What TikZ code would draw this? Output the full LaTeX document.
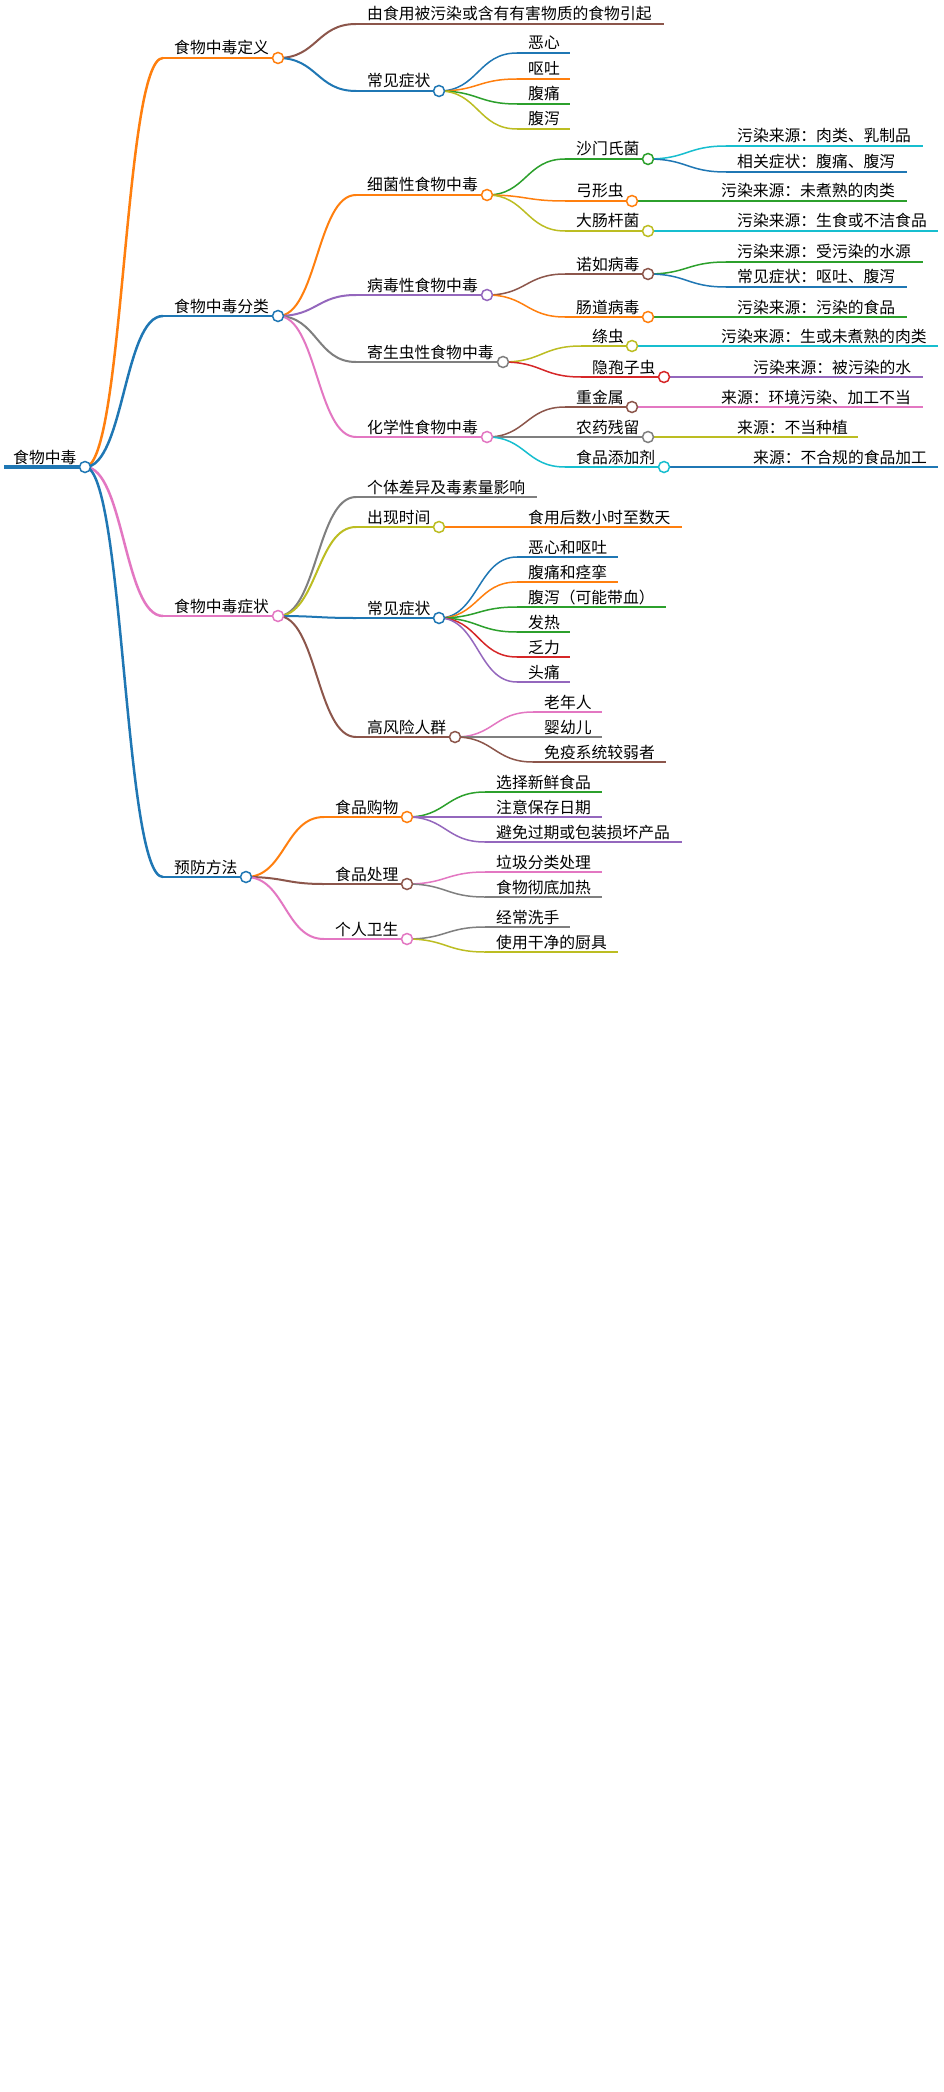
\documentclass[tikz,border=0pt]{standalone}
\usepackage{fontspec}
\setmainfont{Noto Sans CJK SC}
\usetikzlibrary{calc}
\pgfdeclarelayer{bg}
\pgfsetlayers{bg,main}
\definecolor{mblue}{HTML}{1F77B4}
\definecolor{morange}{HTML}{FF7F0E}
\definecolor{mgreen}{HTML}{2CA02C}
\definecolor{mred}{HTML}{D62728}
\definecolor{mpurple}{HTML}{9467BD}
\definecolor{mbrown}{HTML}{8C564B}
\definecolor{mpink}{HTML}{E377C2}
\definecolor{mgray}{HTML}{7F7F7F}
\definecolor{molive}{HTML}{BCBD22}
\definecolor{mcyan}{HTML}{17BECF}
\tikzset{
  lbl/.style={anchor=base west, inner sep=0pt, font=\fontsize{15.8pt}{18pt}\selectfont, text=black},
  dot/.style={circle, fill=white, line width=1.5pt, minimum size=11pt, inner sep=0pt}
}
% #1 name, #2 parent, #3 x start, #4 y, #5 colour, #6 width
\newcommand\mmlink[6]{%
  \coordinate (#1s) at (#3,-#4);
  \coordinate (#1m) at ($(#2.center)!0.5!(#1s)$);
  \begin{pgfonlayer}{bg}
    \draw[line width=#6, draw=#5] (#2.center) .. controls (#1m |- #2.center) and (#1m |- #1s) .. (#1s);
  \end{pgfonlayer}}
% #1 name, #2 parent, #3 x start, #4 y, #5 x end, #6 colour, #7 width, #8 text
\newcommand\mmleaf[8]{%
  \mmlink{#1}{#2}{#3}{#4}{#6}{#7}
  \coordinate (#1e) at (#5,-#4);
  \begin{pgfonlayer}{bg}\draw[line width=#7, draw=#6] (#1s) -- (#1e);\end{pgfonlayer}
  \node[lbl] (#1t) at ($(#1s)+(11,4)$) {#8};}
\newcommand\mmin[8]{%
  \mmlink{#1}{#2}{#3}{#4}{#6}{#7}
  \coordinate (#1e) at (#5,-#4);
  \begin{pgfonlayer}{bg}\draw[line width=#7, draw=#6] (#1s) -- (#1e);\end{pgfonlayer}
  \node[dot, draw=#6] (#1) at (#1e) {};
  \node[lbl] (#1t) at ($(#1s)+(11,4)$) {#8};}
\begin{document}
\begin{tikzpicture}[x=1pt,y=1pt]
\begin{pgfonlayer}{bg}
\fill[white] (0,0) rectangle (944,-2092);
\end{pgfonlayer}
\useasboundingbox (0,0) rectangle (944,-2092);
% root
\coordinate (roots) at (4,-467);
\node[dot, draw=mblue] (root) at (85,-467) {};
\begin{pgfonlayer}{bg}\draw[line width=4pt, draw=mblue] (roots) -- (root.center);\end{pgfonlayer}
\node[lbl] (roott) at (13,-463) {食物中毒};
% level 1
\mmin{def}{root}{163}{58}{278}{morange}{2.5pt}{食物中毒定义}
\mmin{cls}{root}{163}{316}{278}{mblue}{2.5pt}{食物中毒分类}
\mmin{sym}{root}{163}{616}{278}{mpink}{2.5pt}{食物中毒症状}
\mmin{prev}{root}{163}{877}{246}{mblue}{2.5pt}{预防方法}
% definition
\mmleaf{d1}{def}{356}{24}{664}{mbrown}{2pt}{由食用被污染或含有有害物质的食物引起}
\mmin{d2}{def}{356}{91}{439}{mblue}{2pt}{常见症状}
\mmleaf{d21}{d2}{517}{53}{570}{mblue}{1.5pt}{恶心}
\mmleaf{d22}{d2}{517}{79}{570}{morange}{1.5pt}{呕吐}
\mmleaf{d23}{d2}{517}{104}{570}{mgreen}{1.5pt}{腹痛}
\mmleaf{d24}{d2}{517}{129}{570}{molive}{1.5pt}{腹泻}
% classification
\mmin{c1}{cls}{356}{195}{487}{morange}{2pt}{细菌性食物中毒}
\mmin{c2}{cls}{356}{295}{487}{mpurple}{2pt}{病毒性食物中毒}
\mmin{c3}{cls}{356}{362}{503}{mgray}{2pt}{寄生虫性食物中毒}
\mmin{c4}{cls}{356}{437}{487}{mpink}{2pt}{化学性食物中毒}
\mmin{c11}{c1}{565}{159}{648}{mgreen}{1.5pt}{沙门氏菌}
\mmleaf{c111}{c11}{726}{146}{923}{mcyan}{1.5pt}{污染来源：肉类、乳制品}
\mmleaf{c112}{c11}{726}{172}{907}{mblue}{1.5pt}{相关症状：腹痛、腹泻}
\mmin{c12}{c1}{565}{201}{632}{morange}{1.5pt}{弓形虫}
\mmleaf{c121}{c12}{710}{201}{907}{mgreen}{1.5pt}{污染来源：未煮熟的肉类}
\mmin{c13}{c1}{565}{231}{648}{molive}{1.5pt}{大肠杆菌}
\mmleaf{c131}{c13}{726}{231}{938}{mcyan}{1.5pt}{污染来源：生食或不洁食品}
\mmin{c21}{c2}{565}{274}{648}{mbrown}{1.5pt}{诺如病毒}
\mmleaf{c211}{c21}{726}{262}{923}{mgreen}{1.5pt}{污染来源：受污染的水源}
\mmleaf{c212}{c21}{726}{287}{907}{mblue}{1.5pt}{常见症状：呕吐、腹泻}
\mmin{c22}{c2}{565}{317}{648}{morange}{1.5pt}{肠道病毒}
\mmleaf{c221}{c22}{726}{317}{907}{mgreen}{1.5pt}{污染来源：污染的食品}
\mmin{c31}{c3}{581}{346}{632}{molive}{1.5pt}{绦虫}
\mmleaf{c311}{c31}{710}{346}{938}{mcyan}{1.5pt}{污染来源：生或未煮熟的肉类}
\mmin{c32}{c3}{581}{377}{664}{mred}{1.5pt}{隐孢子虫}
\mmleaf{c321}{c32}{742}{377}{923}{mpurple}{1.5pt}{污染来源：被污染的水}
\mmin{c41}{c4}{565}{407}{632}{mbrown}{1.5pt}{重金属}
\mmleaf{c411}{c41}{710}{407}{923}{mpink}{1.5pt}{来源：环境污染、加工不当}
\mmin{c42}{c4}{565}{437}{648}{mgray}{1.5pt}{农药残留}
\mmleaf{c421}{c42}{726}{437}{858}{molive}{1.5pt}{来源：不当种植}
\mmin{c43}{c4}{565}{467}{664}{mcyan}{1.5pt}{食品添加剂}
\mmleaf{c431}{c43}{742}{467}{938}{mblue}{1.5pt}{来源：不合规的食品加工}
% symptoms
\mmleaf{s1}{sym}{356}{497}{537}{mgray}{2pt}{个体差异及毒素量影响}
\mmin{s2}{sym}{356}{527}{439}{molive}{2pt}{出现时间}
\mmleaf{s21}{s2}{517}{527}{682}{morange}{1.5pt}{食用后数小时至数天}
\mmin{s3}{sym}{356}{618}{439}{mblue}{2pt}{常见症状}
\mmleaf{s31}{s3}{517}{557}{618}{mblue}{1.5pt}{恶心和呕吐}
\mmleaf{s32}{s3}{517}{582}{618}{morange}{1.5pt}{腹痛和痉挛}
\mmleaf{s33}{s3}{517}{607}{666}{mgreen}{1.5pt}{腹泻（可能带血）}
\mmleaf{s34}{s3}{517}{632}{570}{mgreen}{1.5pt}{发热}
\mmleaf{s35}{s3}{517}{657}{570}{mred}{1.5pt}{乏力}
\mmleaf{s36}{s3}{517}{682}{570}{mpurple}{1.5pt}{头痛}
\mmin{s4}{sym}{356}{737}{455}{mbrown}{2pt}{高风险人群}
\mmleaf{s41}{s4}{533}{712}{602}{mpink}{1.5pt}{老年人}
\mmleaf{s42}{s4}{533}{737}{602}{mgray}{1.5pt}{婴幼儿}
\mmleaf{s43}{s4}{533}{762}{666}{mbrown}{1.5pt}{免疫系统较弱者}
% prevention
\mmin{p1}{prev}{324}{817}{407}{morange}{2pt}{食品购物}
\mmleaf{p11}{p1}{485}{792}{602}{mgreen}{1.5pt}{选择新鲜食品}
\mmleaf{p12}{p1}{485}{817}{602}{mpurple}{1.5pt}{注意保存日期}
\mmleaf{p13}{p1}{485}{842}{682}{mpurple}{1.5pt}{避免过期或包装损坏产品}
\mmin{p2}{prev}{324}{884}{407}{mbrown}{2pt}{食品处理}
\mmleaf{p21}{p2}{485}{872}{602}{mpink}{1.5pt}{垃圾分类处理}
\mmleaf{p22}{p2}{485}{897}{602}{mgray}{1.5pt}{食物彻底加热}
\mmin{p3}{prev}{324}{939}{407}{mpink}{2pt}{个人卫生}
\mmleaf{p31}{p3}{485}{927}{570}{mgray}{1.5pt}{经常洗手}
\mmleaf{p32}{p3}{485}{952}{618}{molive}{1.5pt}{使用干净的厨具}
\end{tikzpicture}
\end{document}
